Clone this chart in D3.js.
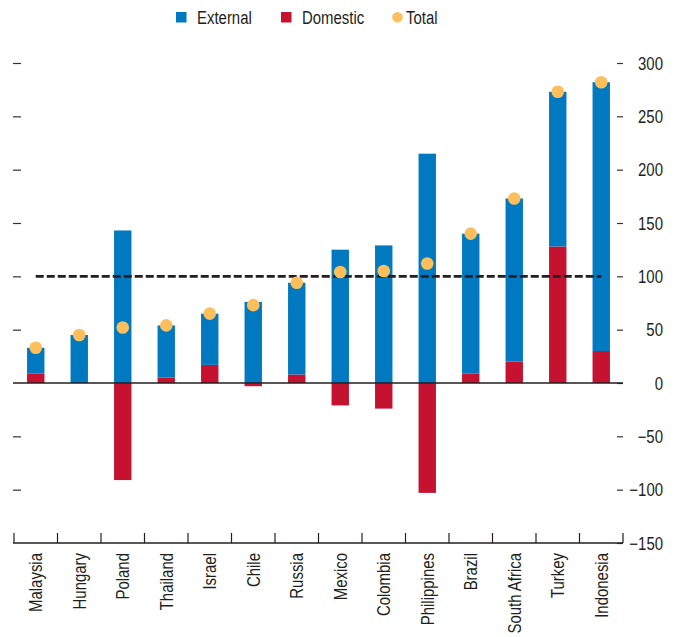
<!DOCTYPE html>
<html>
<head>
<meta charset="utf-8">
<script src="https://cdn.jsdelivr.net/npm/d3@7"></script>
<style>
  html, body { margin: 0; padding: 0; background: #fff; }
  svg { display: block; }
  text { font-family: "Liberation Sans", Arial, sans-serif; fill: #231f20; }
</style>
</head>
<body>
<svg id="chart" width="681" height="637"></svg>
<script>
const countries = ["Malaysia","Hungary","Poland","Thailand","Israel","Chile","Russia","Mexico","Colombia","Philippines","Brazil","South Africa","Turkey","Indonesia"];
const external  = [24, 45, 143, 49, 48, 76, 86, 125, 129, 215, 131, 153, 145, 252];
const domestic  = [9, 0, -91, 5, 17, -3, 8, -21, -24, -103, 9, 20, 128, 30];
const total     = [33, 45, 52, 54, 65, 73, 94, 104, 105, 112, 140, 173, 273, 282];
const yTicks    = [-150, -100, -50, 0, 50, 100, 150, 200, 250, 300];
const reference = 100;
const legendItems = ["External", "Domestic", "Total"];

const colors = { External: "#0079c1", Domestic: "#c41230", Total: "#fcbf5b" };
const NARROW = 0.83;

const svg = d3.select("#chart");
const x = d3.scaleBand().domain(countries).range([14, 623]).padding(0);
const y = d3.scaleLinear().domain([-150, 300]).range([543, 63]);
const barW = x.bandwidth() * 0.4;
const cx = c => x(c) + x.bandwidth() / 2;

function condense(sel) {
  sel.each(function () {
    const w = this.getComputedTextLength();
    d3.select(this).attr("textLength", w * NARROW).attr("lengthAdjust", "spacingAndGlyphs");
  });
}

const rows = countries.map((c, i) => ({ country: c, External: external[i], Domestic: domestic[i], Total: total[i] }));
const stack = d3.stack().keys(["Domestic", "External"]).offset(d3.stackOffsetDiverging);
const series = stack(rows);

// left ticks (no labels)
const leftAxis = d3.axisLeft(y).tickValues(yTicks.filter(v => v !== 0 && v !== -150)).tickSize(8).tickFormat("");
svg.append("g").attr("transform", "translate(21,0)").call(leftAxis)
  .call(g => g.select(".domain").remove())
  .call(g => g.selectAll("line").attr("stroke", "#333").attr("stroke-width", 1.2));

// right axis
const fmt = v => v < 0 ? "\u2212" + Math.abs(v) : String(v);
const rightAxis = d3.axisRight(y).tickValues(yTicks).tickSize(6).tickPadding(0).tickFormat(fmt);
svg.append("g").attr("transform", "translate(617,0)").call(rightAxis)
  .call(g => g.select(".domain").remove())
  .call(g => g.selectAll("line").attr("stroke", "#333").attr("stroke-width", 1.2))
  .call(g => g.selectAll("text").attr("x", 46).attr("text-anchor", "end")
      .attr("font-size", 18).attr("font-family", null).attr("fill", "#231f20").attr("dy", "0.35em")
      .call(condense));

// bars
svg.append("g").selectAll("g").data(series).join("g")
  .attr("fill", d => colors[d.key])
  .selectAll("rect").data(d => d).join("rect")
  .attr("x", d => cx(d.data.country) - barW / 2)
  .attr("width", barW)
  .attr("y", d => y(Math.max(d[0], d[1])))
  .attr("height", d => Math.abs(y(d[0]) - y(d[1])));

// zero line
svg.append("line").attr("x1", 13).attr("x2", 623).attr("y1", y(0)).attr("y2", y(0))
  .attr("stroke", "#231f20").attr("stroke-width", 1.3);

// dashed reference line
svg.append("line")
  .attr("x1", cx(countries[0])).attr("x2", cx(countries[countries.length - 1]))
  .attr("y1", y(reference)).attr("y2", y(reference))
  .attr("stroke", "#231f20").attr("stroke-width", 2.6).attr("stroke-dasharray", "8,3");

// total dots
svg.append("g").selectAll("circle").data(rows).join("circle")
  .attr("cx", d => cx(d.country)).attr("cy", d => y(d.Total)).attr("r", 6.3)
  .attr("fill", colors.Total);

// x axis at bottom
const xAxis = d3.axisBottom(x).tickSize(0).tickFormat("");
const gx = svg.append("g").attr("transform", "translate(0,543)").call(xAxis);
gx.select(".domain").attr("stroke", "#231f20").attr("stroke-width", 1.3).attr("d", "M13,0H623");
gx.selectAll(".tick").remove();
const bounds = countries.map(c => x(c)).concat([x(countries[countries.length - 1]) + x.bandwidth()]);
svg.append("g").selectAll("line").data(bounds).join("line")
  .attr("x1", d => d).attr("x2", d => d).attr("y1", 543).attr("y2", 533)
  .attr("stroke", "#231f20").attr("stroke-width", 1.2);

svg.append("g").selectAll("text").data(countries).join("text")
  .attr("transform", c => `translate(${cx(c)},553) rotate(-90)`)
  .attr("text-anchor", "end").attr("dy", "0.35em")
  .attr("font-size", 18)
  .text(c => c)
  .call(condense);

// legend
const legendX = [176, 281, 392];
const lg = svg.append("g");
legendItems.forEach((k, i) => {
  let t;
  if (k === "Total") {
    lg.append("circle").attr("cx", legendX[i] + 5.5).attr("cy", 17.3).attr("r", 5.3).attr("fill", colors[k]);
    t = lg.append("text").attr("x", legendX[i] + 14).attr("y", 24).attr("font-size", 18).text(k);
  } else {
    lg.append("rect").attr("x", legendX[i]).attr("y", 12).attr("width", 10.5).attr("height", 10.5).attr("fill", colors[k]);
    t = lg.append("text").attr("x", legendX[i] + 21).attr("y", 24).attr("font-size", 18).text(k);
  }
  t.call(condense);
});
</script>
</body>
</html>
